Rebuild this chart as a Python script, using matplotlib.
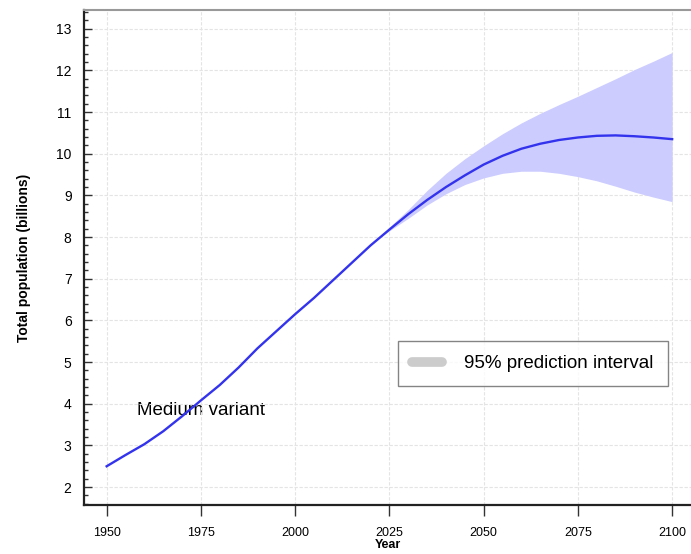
import matplotlib
matplotlib.use("Agg")
import matplotlib.pyplot as plt
from matplotlib.ticker import MultipleLocator

plt.rcParams['font.family'] = ['Liberation Sans', 'DejaVu Sans']

years = [1950, 1955, 1960, 1965, 1970, 1975, 1980, 1985, 1990, 1995, 2000, 2005,
         2010, 2015, 2020, 2025, 2030, 2035, 2040, 2045, 2050, 2055, 2060, 2065,
         2070, 2075, 2080, 2085, 2090, 2095, 2100]
medium = [2.50, 2.77, 3.03, 3.34, 3.70, 4.08, 4.45, 4.87, 5.33, 5.74, 6.15, 6.54,
          6.96, 7.38, 7.80, 8.18, 8.55, 8.89, 9.20, 9.48, 9.74, 9.95, 10.12, 10.24,
          10.33, 10.39, 10.43, 10.44, 10.42, 10.39, 10.35]

band_years = [2022, 2025, 2030, 2035, 2040, 2045, 2050, 2055, 2060, 2065, 2070,
              2075, 2080, 2085, 2090, 2095, 2100]
band_low = [7.96, 8.15, 8.45, 8.77, 9.04, 9.26, 9.42, 9.53, 9.58, 9.58, 9.53,
            9.45, 9.35, 9.22, 9.08, 8.96, 8.85]
band_high = [7.98, 8.24, 8.66, 9.12, 9.53, 9.88, 10.19, 10.48, 10.74, 10.97, 11.18,
             11.38, 11.59, 11.80, 12.02, 12.22, 12.43]

fig = plt.figure(figsize=(6.91, 5.54), dpi=100)
ax = fig.add_axes([0.1216, 0.0884, 0.8784, 0.8936])

ax.fill_between(band_years, band_low, band_high, color='#ccccff', linewidth=0, zorder=2)
ax.plot(years, medium, color='#3333ee', linewidth=1.7, zorder=3)

ax.set_xlim(1944, 2105)
ax.set_ylim(1.57, 13.45)
ax.set_xticks([1950, 1975, 2000, 2025, 2050, 2075, 2100])
ax.set_yticks(range(2, 14))
ax.yaxis.set_minor_locator(MultipleLocator(0.2))

ax.grid(True, which='major', color='#e4e4e4', linestyle=(0, (3, 1.5)), linewidth=0.8, zorder=0)

ax.tick_params(axis='x', direction='out', length=8, width=1, labelsize=9, pad=8, color='#333333')
ax.tick_params(axis='y', which='major', direction='in', length=6, width=1, labelsize=10,
               pad=9, color='#333333')
ax.tick_params(axis='y', which='minor', direction='in', length=3, width=1, color='#333333')
ax.tick_params(axis='x', which='minor', bottom=False)

for s in ['left', 'bottom']:
    ax.spines[s].set_linewidth(1.6)
    ax.spines[s].set_color('#222222')
ax.spines['top'].set_color('#999999')
ax.spines['top'].set_linewidth(1.5)
ax.spines['right'].set_visible(False)

ax.set_ylabel('Total population (billions)', fontsize=10, fontweight='bold', labelpad=18)
ax.set_xlabel('Year', fontsize=9, fontweight='bold', labelpad=0)

ax.text(1958, 3.85, 'Medium variant', fontsize=13.5, va='center', ha='left', zorder=1)

leg_handle = plt.Line2D([], [], color='#cccccc', linewidth=7, solid_capstyle='round')
leg = ax.legend([leg_handle], ['95% prediction interval'], loc='lower right',
                bbox_to_anchor=(0.962, 0.240), borderaxespad=0, fontsize=13.5, frameon=True,
                fancybox=False, edgecolor='#666666', handlelength=1.6, borderpad=0.75,
                handletextpad=1.2)
leg.get_frame().set_linewidth(1.0)

fig.savefig('out.png', dpi=100)
